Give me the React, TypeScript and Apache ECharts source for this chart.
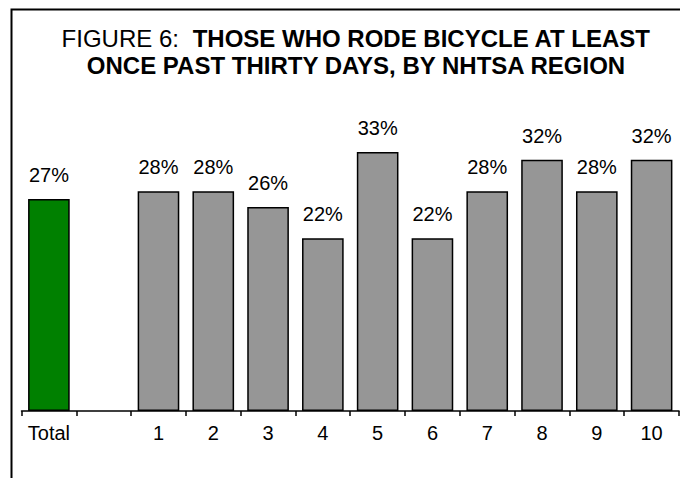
import React, { useEffect, useRef } from "react";
import * as echarts from "echarts";

const categories = ["Total", "", "1", "2", "3", "4", "5", "6", "7", "8", "9", "10"];
const values: (number | null)[] = [27, null, 28, 28, 26, 22, 33, 22, 28, 32, 28, 32];
const titleLine1Prefix = "FIGURE 6:  ";
const titleLine1Bold = "THOSE WHO RODE BICYCLE AT LEAST";
const titleLine2 = "ONCE PAST THIRTY DAYS, BY NHTSA REGION";

const FONT = "'Liberation Sans', Arial, Helvetica, sans-serif";

export default function App() {
  const ref = useRef<HTMLDivElement>(null);
  useEffect(() => {
    if (!ref.current) return;
    const chart = echarts.init(ref.current, undefined, { renderer: "svg" });
    const data = values.map((v, i) =>
      v === null
        ? "-"
        : {
            value: v,
            itemStyle: { color: categories[i] === "Total" ? "#008000" : "#969696" },
          }
    );
    chart.setOption({
      animation: false,
      backgroundColor: "#ffffff",
      textStyle: { fontFamily: FONT },
      grid: { left: 21.5, right: 1, top: 97, bottom: 67, containLabel: false },
      xAxis: {
        type: "category",
        data: categories,
        boundaryGap: true,
        axisLine: { show: true, lineStyle: { color: "#000", width: 1.5 } },
        axisTick: { show: true, alignWithLabel: false, length: 5, lineStyle: { color: "#000", width: 1.5 } },
        axisLabel: { color: "#000", fontSize: 20, fontFamily: FONT, margin: 12, interval: 0 },
        splitLine: { show: false },
      },
      yAxis: {
        type: "value",
        min: 0,
        max: 40,
        show: false,
        splitLine: { show: false },
      },
      series: [
        {
          type: "bar",
          data,
          barWidth: "76%",
          itemStyle: { borderColor: "#000", borderWidth: 1.5 },
          label: {
            show: true,
            position: "top",
            distance: 14,
            formatter: "{c}%",
            color: "#000",
            fontSize: 20,
            fontFamily: FONT,
          },
        },
      ],
      graphic: [
        {
          type: "rect",
          shape: { x: 11.5, y: 9.5, width: 720, height: 520 },
          style: { fill: "none", stroke: "#000", lineWidth: 2 },
          silent: true,
          z: 100,
        },
        {
          type: "text",
          x: 356,
          y: 38,
          style: {
            text: "{r|" + titleLine1Prefix + "}{b|" + titleLine1Bold + "}",
            align: "center",
            verticalAlign: "middle",
            rich: {
              r: { fontSize: 24, fontFamily: FONT, fill: "#000", fontWeight: "normal" },
              b: { fontSize: 24, fontFamily: FONT, fill: "#000", fontWeight: "bold" },
            },
          },
        },
        {
          type: "text",
          x: 356,
          y: 65,
          style: {
            text: titleLine2,
            align: "center",
            verticalAlign: "middle",
            fontSize: 24,
            fontFamily: FONT,
            fontWeight: "bold",
            fill: "#000",
          },
        },
      ],
    });
    return () => chart.dispose();
  }, []);
  return (
    <div
      ref={ref}
      style={{ position: "fixed", left: 0, top: 0, width: 680, height: 478, background: "#fff" }}
    />
  );
}
